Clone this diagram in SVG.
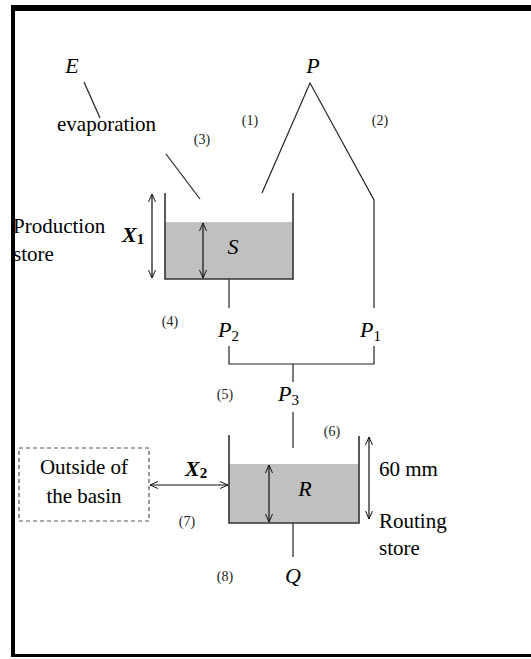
<svg xmlns="http://www.w3.org/2000/svg" width="531" height="659" viewBox="0 0 531 659">
<style>
text{font-family:"Liberation Serif","Times New Roman",serif}
.t{font-size:21px;fill:#000}
.i{font-size:22px;font-style:italic;fill:#000}
.b{font-size:22px;font-style:italic;font-weight:bold;fill:#000}
.n{font-size:14px;fill:#222}
.sub{font-size:15px;font-style:normal}
.ln{stroke:#222;stroke-width:1.2;fill:none}
.wall{stroke:#333;stroke-width:1.6;fill:none}
.water{fill:#c0c0c0}
.arr{stroke:#111;stroke-width:1.2;fill:none;marker-start:url(#ah);marker-end:url(#ah)}
</style>
<defs>
<marker id="ah" markerUnits="userSpaceOnUse" markerWidth="10" markerHeight="10" refX="8" refY="4" orient="auto-start-reverse">
<path d="M0,0.5 L8,4 L0,7.5" fill="none" stroke="#111" stroke-width="1"/>
</marker>
</defs>
<rect x="0" y="0" width="531" height="659" fill="#fff"/>
<g id="frame">
<rect x="11" y="5" width="520" height="6" fill="#000"/>
<rect x="11" y="5" width="4" height="652" fill="#000"/>
<rect x="11" y="654" width="520" height="3" fill="#000"/>
</g>
<g id="connectors">
<line class="ln" x1="84" y1="82" x2="100" y2="118"/>
<line class="ln" x1="166" y1="154" x2="200" y2="199"/>
<polyline class="ln" points="262,193 310,83 374,200 374,308"/>
<line class="ln" x1="229" y1="279" x2="229" y2="308"/>
<polyline class="ln" points="229,346 229,364 374,364 374,346"/>
<line class="ln" x1="293" y1="364" x2="293" y2="382"/>
<line class="ln" x1="293" y1="412" x2="293" y2="448"/>
<line class="ln" x1="293" y1="523" x2="293" y2="557"/>
<line class="arr" x1="150" y1="485" x2="228" y2="485"/>
</g>
<g id="E">
<text class="i" x="72" y="73" text-anchor="middle">E</text>
<text class="t" x="57" y="131">evaporation</text>
</g>
<g id="P">
<text class="i" x="313" y="73" text-anchor="middle">P</text>
</g>
<g id="production-store">
<rect class="water" x="165" y="222" width="128" height="57"/>
<polyline class="wall" points="165,193 165,279 293,279 293,193"/>
<line class="arr" x1="152" y1="194" x2="152" y2="278"/>
<line class="arr" x1="203" y1="223" x2="203" y2="278"/>
<text class="i" x="233" y="254" text-anchor="middle">S</text>
<text class="b" x="122" y="242">X<tspan class="sub" dy="2">1</tspan></text>
<text class="t" x="13" y="233">Production</text>
<text class="t" x="13" y="261">store</text>
</g>
<g id="P2"><text class="i" x="218" y="337">P<tspan class="sub" dy="4">2</tspan></text></g>
<g id="P1"><text class="i" x="360" y="337">P<tspan class="sub" dy="4">1</tspan></text></g>
<g id="P3"><text class="i" x="278" y="401">P<tspan class="sub" dy="4">3</tspan></text></g>
<g id="routing-store">
<rect class="water" x="229" y="464" width="130" height="59"/>
<polyline class="wall" points="229,435 229,523 359,523 359,436"/>
<line class="arr" x1="269" y1="465" x2="269" y2="522"/>
<line class="arr" x1="369" y1="437" x2="369" y2="519"/>
<text class="i" x="305" y="496" text-anchor="middle">R</text>
<text class="t" x="379" y="476">60 mm</text>
<text class="t" x="379" y="528">Routing</text>
<text class="t" x="379" y="555">store</text>
</g>
<g id="outside">
<rect x="19" y="448" width="130" height="73" fill="none" stroke="#555" stroke-width="1.2" stroke-dasharray="4,3"/>
<text class="t" x="84" y="474" text-anchor="middle">Outside of</text>
<text class="t" x="84" y="503" text-anchor="middle">the basin</text>
</g>
<g id="X2"><text class="b" x="185" y="476">X<tspan class="sub" dy="2">2</tspan></text></g>
<g id="Q"><text class="i" x="293" y="583" text-anchor="middle">Q</text></g>
<g id="labels">
<text class="n" x="250" y="125" text-anchor="middle">(1)</text>
<text class="n" x="380" y="125" text-anchor="middle">(2)</text>
<text class="n" x="202" y="144" text-anchor="middle">(3)</text>
<text class="n" x="170" y="326" text-anchor="middle">(4)</text>
<text class="n" x="225" y="399" text-anchor="middle">(5)</text>
<text class="n" x="332" y="436" text-anchor="middle">(6)</text>
<text class="n" x="187" y="526" text-anchor="middle">(7)</text>
<text class="n" x="225" y="581" text-anchor="middle">(8)</text>
</g>
</svg>
